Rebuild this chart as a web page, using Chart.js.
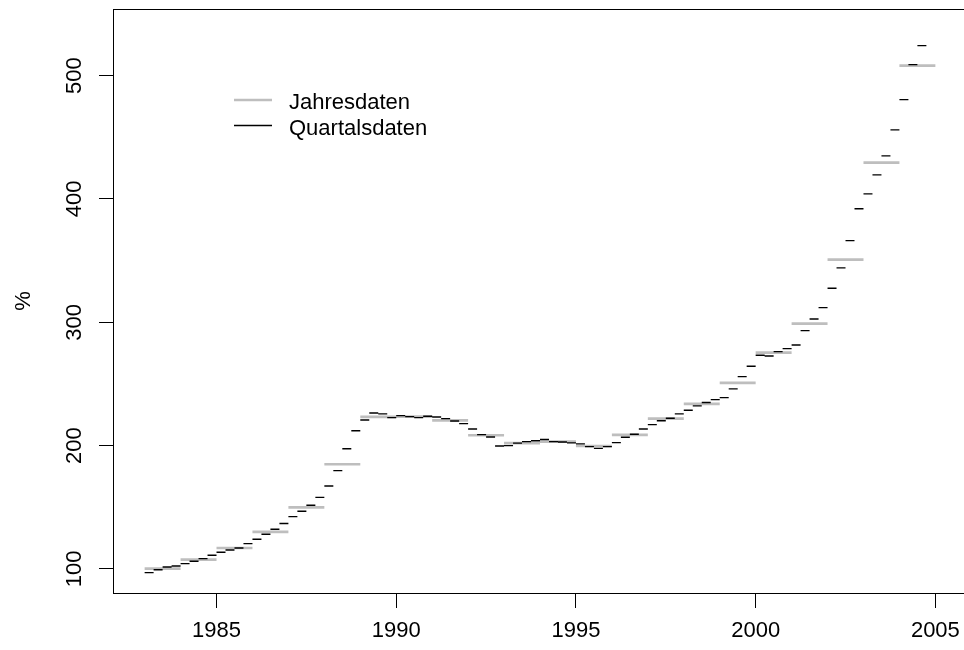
<!DOCTYPE html>
<html>
<head>
<meta charset="utf-8">
<script src="https://cdn.jsdelivr.net/npm/chart.js@4.4.1/dist/chart.umd.min.js"></script>
<style>
  html, body { margin: 0; padding: 0; background: #fff; overflow: hidden; }
  #wrap { width: 970px; height: 650px; }
</style>
</head>
<body>
<div id="wrap"><canvas id="chart" width="970" height="650"></canvas></div>
<script>
// quarterly index values, 1983 Q1 .. 2004 Q3
const quarterStart = 1983;
const quarterly = [
  97.0, 99.4, 101.6, 102.4,
  104.3, 106.2, 108.4, 111.1,
  113.5, 115.4, 117.0, 120.5,
  124.1, 128.1, 132.2, 136.8,
  142.4, 146.8, 151.6, 158.0,
  167.2, 179.7, 197.5, 212.0,
  220.8, 226.5, 225.7, 222.7,
  224.3, 223.5, 222.7, 223.8,
  223.2, 221.9, 220.0, 217.8,
  213.5, 208.9, 207.0, 199.7,
  200.0, 202.0, 203.2, 204.0,
  204.9, 203.2, 202.9, 202.2,
  201.4, 199.2, 197.8, 199.2,
  202.4, 206.8, 209.2, 213.5,
  217.0, 220.2, 222.2, 225.7,
  228.7, 232.2, 234.9, 237.3,
  238.9, 246.0, 255.9, 264.3,
  273.3, 272.7, 276.2, 278.6,
  281.6, 293.2, 302.7, 311.9,
  327.6, 344.1, 366.2, 392.1,
  404.1, 419.5, 434.9, 456.0,
  480.5, 508.9, 524.3
];

// annual values, 1983 .. 2004
const years = [1983, 1984, 1985, 1986, 1987, 1988, 1989, 1990, 1991, 1992, 1993,
               1994, 1995, 1996, 1997, 1998, 1999, 2000, 2001, 2002, 2003, 2004];
const annual = [100.2, 107.6, 117.0, 130.0, 150.0, 184.9, 223.3, 223.5, 220.5, 208.4, 202.0,
                203.2, 199.7, 208.7, 221.9, 233.8, 250.8, 275.4, 298.9, 350.8, 429.5, 508.1];

const xTicks = [1985, 1990, 1995, 2000, 2005];
const yTicks = [100, 200, 300, 400, 500];
const legendLabels = ['Jahresdaten', 'Quartalsdaten'];

const FONT = '"Liberation Sans", Arial, Helvetica, sans-serif';

// each value becomes a flat step from t to t+len, broken by a null point
function steps(starts, values, len) {
  const out = [];
  values.forEach((v, i) => {
    const t = starts[i];
    out.push({ x: t, y: v }, { x: t + len, y: v }, { x: t + len, y: null });
  });
  return out;
}

const quarterTimes = quarterly.map((_, i) => quarterStart + i * 0.25);

// box, rotated y labels, y title and legend, R style
const rFrame = {
  id: 'rFrame',
  afterDraw(chart) {
    const { ctx, chartArea: a, scales } = chart;
    ctx.save();
    ctx.strokeStyle = '#000';
    ctx.lineWidth = 1;
    ctx.strokeRect(a.left + 0.5, a.top + 0.5, a.right - a.left, a.bottom - a.top);

    ctx.fillStyle = '#000';
    ctx.font = '22px ' + FONT;
    ctx.textAlign = 'center';
    ctx.textBaseline = 'alphabetic';
    yTicks.forEach(v => {
      const y = scales.y.getPixelForValue(v);
      ctx.save();
      ctx.translate(81, y);
      ctx.rotate(-Math.PI / 2);
      ctx.fillText(String(v), 0, 0);
      ctx.restore();
    });

    ctx.save();
    ctx.translate(30, (a.top + a.bottom) / 2);
    ctx.rotate(-Math.PI / 2);
    ctx.fillText('%', 0, 0);
    ctx.restore();

    // legend
    ctx.lineCap = 'butt';
    ctx.strokeStyle = '#bebebe';
    ctx.lineWidth = 2.7;
    ctx.beginPath(); ctx.moveTo(234, 100); ctx.lineTo(272, 100); ctx.stroke();
    ctx.strokeStyle = '#000';
    ctx.lineWidth = 1.4;
    ctx.beginPath(); ctx.moveTo(234, 125.5); ctx.lineTo(272, 125.5); ctx.stroke();
    ctx.textAlign = 'left';
    ctx.fillText(legendLabels[0], 289, 109);
    ctx.fillText(legendLabels[1], 289, 134.5);
    ctx.restore();
  }
};

new Chart(document.getElementById('chart'), {
  type: 'line',
  data: {
    datasets: [
      {
        label: legendLabels[1],
        data: steps(quarterTimes, quarterly, 0.25),
        borderColor: '#000',
        borderWidth: 1.4,
        pointRadius: 0,
        spanGaps: false,
        order: 0
      },
      {
        label: legendLabels[0],
        data: steps(years, annual, 1),
        borderColor: '#bebebe',
        borderWidth: 2.7,
        pointRadius: 0,
        spanGaps: false,
        order: 1
      }
    ]
  },
  options: {
    responsive: false,
    devicePixelRatio: 1,
    animation: false,
    events: [],
    layout: { padding: { left: 0, top: 9, right: 3, bottom: 0 } },
    plugins: { legend: { display: false }, tooltip: { enabled: false } },
    scales: {
      x: {
        type: 'linear',
        min: 1982.12,
        max: 2005.88,
        afterBuildTicks: s => { s.ticks = xTicks.map(v => ({ value: v })); },
        afterFit: s => { s.height = 57; },
        grid: { drawOnChartArea: false, drawTicks: true, tickLength: 15, color: '#000' },
        border: { display: false },
        ticks: {
          autoSkip: false, maxRotation: 0, padding: 10, color: '#000',
          font: { size: 22, family: FONT },
          callback: v => String(v)
        }
      },
      y: {
        type: 'linear',
        min: 80.5,
        max: 554,
        afterBuildTicks: s => { s.ticks = yTicks.map(v => ({ value: v })); },
        afterFit: s => { s.width = 113; },
        grid: { drawOnChartArea: false, drawTicks: true, tickLength: 14, color: '#000' },
        border: { display: false },
        ticks: { display: false }
      }
    }
  },
  plugins: [rFrame]
});
</script>
</body>
</html>
